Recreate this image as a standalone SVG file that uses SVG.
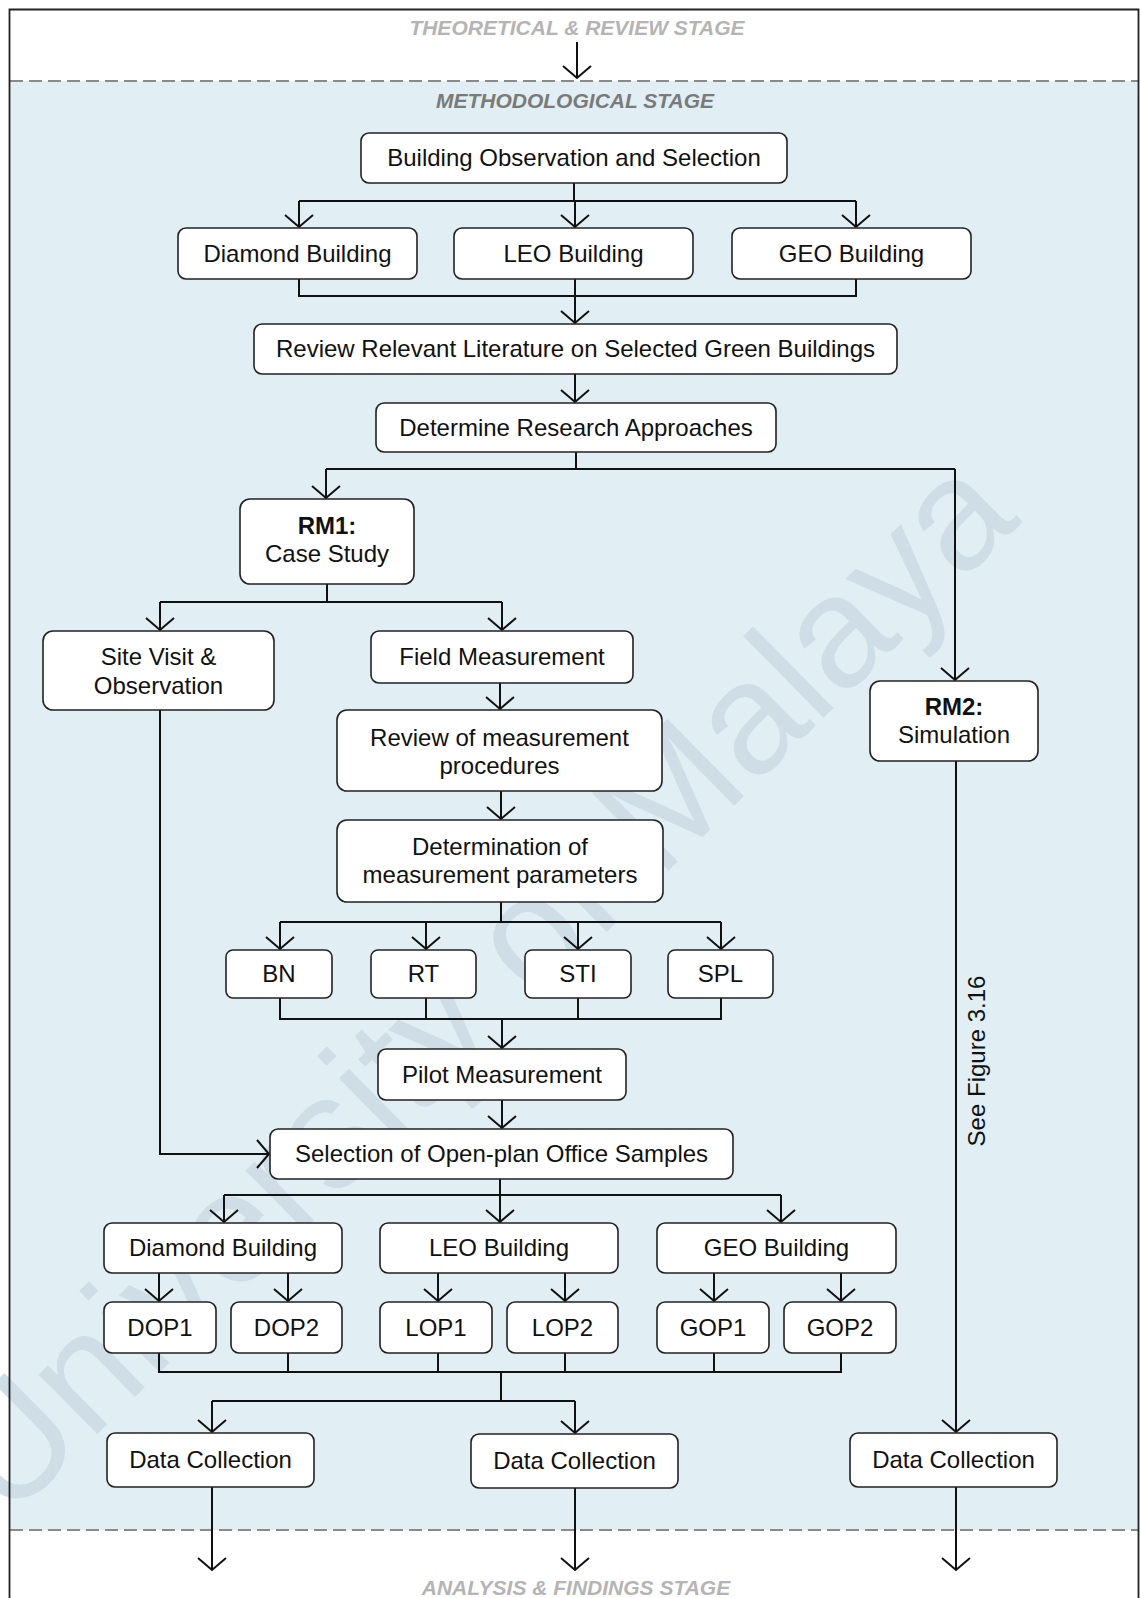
<svg xmlns="http://www.w3.org/2000/svg" width="1141" height="1598" viewBox="0 0 1141 1598">
<defs>
<style>
.box{fill:#fff;stroke:#222;stroke-width:1.6}
.t{font-family:"Liberation Sans",Arial,sans-serif;font-size:24px;fill:#111;text-anchor:middle}
.b{font-weight:bold}
.stage{font-family:"Liberation Sans",Arial,sans-serif;font-size:21px;font-weight:bold;font-style:italic;text-anchor:middle}
.c{fill:none;stroke:#111;stroke-width:2}
.a{marker-end:url(#arr)}
.dash{stroke:#8a8a8a;stroke-width:2.2;stroke-dasharray:13 6}
</style>
<marker id="arr" viewBox="-14 -16 16 32" markerWidth="16" markerHeight="32" markerUnits="userSpaceOnUse" refX="0" refY="0" orient="auto">
<path d="M-12,-14 L0,0 L-12,14" fill="none" stroke="#111" stroke-width="2"/>
</marker>
</defs>
<rect x="0" y="0" width="1141" height="1598" fill="#fff"/>
<rect x="10" y="81" width="1128" height="1449" fill="#e1eff4"/>
<text x="0" y="0" transform="translate(8,1522) rotate(-44.6)" font-family="Liberation Sans,Arial,sans-serif" font-size="158" fill="#cfdee6" textLength="1425" lengthAdjust="spacingAndGlyphs">University of Malaya</text>
<line class="dash" x1="10" y1="81" x2="1138" y2="81"/>
<line class="dash" x1="10" y1="1530" x2="1138" y2="1530"/>
<path d="M9.5,1598 V9.5 H1138.5 V1598" fill="none" stroke="#222" stroke-width="1.8"/>
<text class="stage" x="577" y="35" fill="#b4b4b4">THEORETICAL &amp; REVIEW STAGE</text>
<text class="stage" x="575" y="107.5" fill="#7a7a7a">METHODOLOGICAL STAGE</text>
<text class="stage" x="576" y="1594.5" fill="#b4b4b4">ANALYSIS &amp; FINDINGS STAGE</text>

<g id="connectors">
<path class="c a" d="M577,42 V78"/>
<path class="c" d="M574,183 V201 M299,201 H856"/>
<path class="c a" d="M299,201 V227"/>
<path class="c a" d="M575,201 V227"/>
<path class="c a" d="M856,201 V227"/>
<path class="c" d="M299,279 V296 H856 V279"/>
<path class="c a" d="M575,279 V323"/>
<path class="c a" d="M575,374 V402"/>
<path class="c" d="M576,452 V469 M326,469 H955"/>
<path class="c a" d="M326,469 V498"/>
<path class="c a" d="M955,469 V680"/>
<path class="c" d="M327,584 V602 M160,602 H502"/>
<path class="c a" d="M160,602 V630"/>
<path class="c a" d="M502,602 V630"/>
<path class="c a" d="M500,683 V709"/>
<path class="c a" d="M501,791 V819"/>
<path class="c" d="M501,902 V922 M280,922 H721"/>
<path class="c a" d="M280,922 V949"/>
<path class="c a" d="M426,922 V949"/>
<path class="c a" d="M578,922 V949"/>
<path class="c a" d="M721,922 V949"/>
<path class="c" d="M280,998 V1019 H721 V998 M426,998 V1019 M578,998 V1019"/>
<path class="c a" d="M502,1019 V1048"/>
<path class="c a" d="M502,1100 V1128"/>
<path class="c a" d="M160,710 V1154 H269"/>
<path class="c" d="M500,1179 V1195 M224,1195 H781"/>
<path class="c a" d="M224,1195 V1222"/>
<path class="c a" d="M500,1195 V1222"/>
<path class="c a" d="M781,1195 V1222"/>
<path class="c a" d="M159,1273 V1301"/>
<path class="c a" d="M288,1273 V1301"/>
<path class="c a" d="M438,1273 V1301"/>
<path class="c a" d="M565,1273 V1301"/>
<path class="c a" d="M714,1273 V1301"/>
<path class="c a" d="M841,1273 V1301"/>
<path class="c" d="M159,1353 V1372 H841 V1353 M288,1353 V1372 M438,1353 V1372 M565,1353 V1372 M714,1353 V1372 M501,1372 V1401 M212,1401 H575"/>
<path class="c a" d="M212,1401 V1432"/>
<path class="c a" d="M575,1401 V1433"/>
<path class="c a" d="M956,761 V1432"/>
<path class="c a" d="M212,1487 V1570"/>
<path class="c a" d="M575,1488 V1570"/>
<path class="c a" d="M956,1487 V1570"/>
<text class="t" x="0" y="8" transform="translate(977,1061) rotate(-90)">See Figure 3.16</text>
</g>

<g id="n-obs"><rect class="box" x="361" y="133" width="426" height="50" rx="8"/><text class="t" x="574" y="166">Building Observation and Selection</text></g>
<g id="n-diamond1"><rect class="box" x="178" y="228" width="239" height="51" rx="8"/><text class="t" x="297.5" y="262">Diamond Building</text></g>
<g id="n-leo1"><rect class="box" x="454" y="228" width="239" height="51" rx="8"/><text class="t" x="573.5" y="262">LEO Building</text></g>
<g id="n-geo1"><rect class="box" x="732" y="228" width="239" height="51" rx="8"/><text class="t" x="851.5" y="262">GEO Building</text></g>
<g id="n-review-lit"><rect class="box" x="254" y="324" width="643" height="50" rx="8"/><text class="t" x="575.5" y="357">Review Relevant Literature on Selected Green Buildings</text></g>
<g id="n-determine"><rect class="box" x="376" y="403" width="400" height="49" rx="8"/><text class="t" x="576" y="436">Determine Research Approaches</text></g>
<g id="n-rm1"><rect class="box" x="240" y="499" width="174" height="85" rx="10"/><text class="t b" x="327" y="534">RM1:</text><text class="t" x="327" y="562">Case Study</text></g>
<g id="n-rm2"><rect class="box" x="870" y="681" width="168" height="80" rx="10"/><text class="t b" x="954" y="715">RM2:</text><text class="t" x="954" y="743">Simulation</text></g>
<g id="n-site"><rect class="box" x="43" y="631" width="231" height="79" rx="10"/><text class="t" x="158.5" y="665">Site Visit &amp;</text><text class="t" x="158.5" y="694">Observation</text></g>
<g id="n-field"><rect class="box" x="371" y="631" width="262" height="52" rx="8"/><text class="t" x="502" y="665">Field Measurement</text></g>
<g id="n-review-meas"><rect class="box" x="337" y="710" width="325" height="81" rx="10"/><text class="t" x="499.5" y="746">Review of measurement</text><text class="t" x="499.5" y="774">procedures</text></g>
<g id="n-determination"><rect class="box" x="337" y="820" width="326" height="82" rx="10"/><text class="t" x="500" y="855">Determination of</text><text class="t" x="500" y="883">measurement parameters</text></g>
<g id="n-bn"><rect class="box" x="226" y="950" width="106" height="48" rx="7"/><text class="t" x="279" y="982">BN</text></g>
<g id="n-rt"><rect class="box" x="371" y="950" width="105" height="48" rx="7"/><text class="t" x="423.5" y="982">RT</text></g>
<g id="n-sti"><rect class="box" x="525" y="950" width="106" height="48" rx="7"/><text class="t" x="578" y="982">STI</text></g>
<g id="n-spl"><rect class="box" x="668" y="950" width="105" height="48" rx="7"/><text class="t" x="720.5" y="982">SPL</text></g>
<g id="n-pilot"><rect class="box" x="378" y="1049" width="248" height="51" rx="8"/><text class="t" x="502" y="1083">Pilot Measurement</text></g>
<g id="n-selection"><rect class="box" x="270" y="1129" width="463" height="50" rx="8"/><text class="t" x="501.5" y="1162">Selection of Open-plan Office Samples</text></g>
<g id="n-diamond2"><rect class="box" x="104" y="1223" width="238" height="50" rx="8"/><text class="t" x="223" y="1256">Diamond Building</text></g>
<g id="n-leo2"><rect class="box" x="380" y="1223" width="238" height="50" rx="8"/><text class="t" x="499" y="1256">LEO Building</text></g>
<g id="n-geo2"><rect class="box" x="657" y="1223" width="239" height="50" rx="8"/><text class="t" x="776.5" y="1256">GEO Building</text></g>
<g id="n-dop1"><rect class="box" x="104" y="1302" width="112" height="51" rx="8"/><text class="t" x="160" y="1336">DOP1</text></g>
<g id="n-dop2"><rect class="box" x="231" y="1302" width="111" height="51" rx="8"/><text class="t" x="286.5" y="1336">DOP2</text></g>
<g id="n-lop1"><rect class="box" x="380" y="1302" width="112" height="51" rx="8"/><text class="t" x="436" y="1336">LOP1</text></g>
<g id="n-lop2"><rect class="box" x="507" y="1302" width="111" height="51" rx="8"/><text class="t" x="562.5" y="1336">LOP2</text></g>
<g id="n-gop1"><rect class="box" x="657" y="1302" width="112" height="51" rx="8"/><text class="t" x="713" y="1336">GOP1</text></g>
<g id="n-gop2"><rect class="box" x="784" y="1302" width="112" height="51" rx="8"/><text class="t" x="840" y="1336">GOP2</text></g>
<g id="n-dc1"><rect class="box" x="107" y="1433" width="207" height="54" rx="8"/><text class="t" x="210.5" y="1468">Data Collection</text></g>
<g id="n-dc2"><rect class="box" x="471" y="1434" width="207" height="54" rx="8"/><text class="t" x="574.5" y="1469">Data Collection</text></g>
<g id="n-dc3"><rect class="box" x="850" y="1433" width="207" height="54" rx="8"/><text class="t" x="953.5" y="1468">Data Collection</text></g>
</svg>
